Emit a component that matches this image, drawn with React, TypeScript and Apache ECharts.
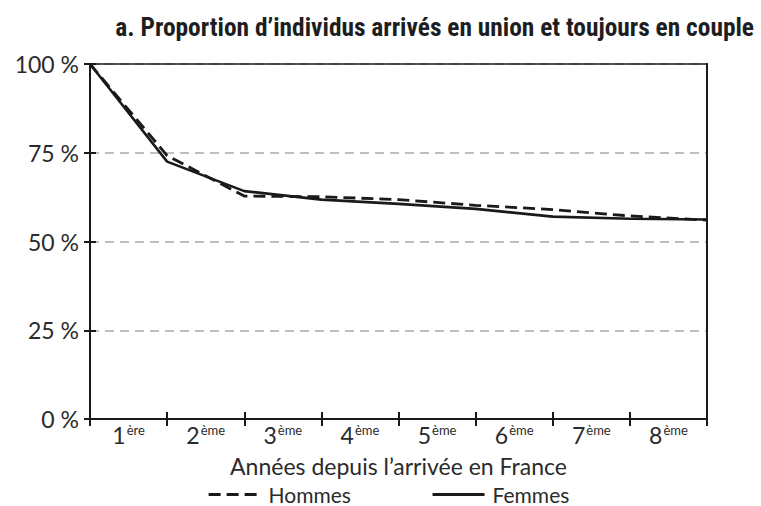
import React, { useEffect, useRef } from "react";
import * as echarts from "echarts";

const titleText = "a. Proportion d’individus arrivés en union et toujours en couple";
const axisTitle = "Années depuis l’arrivée en France";
const yearNumbers = ["1", "2", "3", "4", "5", "6", "7", "8"];
const yearSuffixes = ["ère", "ème", "ème", "ème", "ème", "ème", "ème", "ème"];
const xPositions = [0, 1, 2, 3, 4, 5, 6, 7, 8];
const hommes = [100, 74.2, 62.8, 62.6, 61.8, 60.2, 59.0, 57.2, 56.0];
const femmes = [100, 72.5, 64.2, 61.8, 60.6, 59.2, 57.0, 56.4, 56.2];
const yTicks = [0, 25, 50, 75, 100];

const FONT = "Lato, 'Open Sans', sans-serif";
const TEXT = "#2b2b2b";
const LINE = "#1a1a1a";

export default function App() {
  const ref = useRef<HTMLDivElement>(null);
  useEffect(() => {
    if (!ref.current) return;
    const chart = echarts.init(ref.current, undefined, { renderer: "svg" });
    const categories = yearNumbers.map((n, i) => n + "|" + yearSuffixes[i]);
    const option: any = {
      animation: false,
      backgroundColor: "#ffffff",
      title: {
        text: titleText,
        right: 2,
        top: 9,
        textStyle: {
          fontFamily: "'Liberation Sans Narrow', 'Roboto Condensed', sans-serif",
          fontWeight: "bold",
          fontSize: 25.4,
          color: "#1e1e1e",
        },
      },
      legend: {
        left: 202,
        top: 479,
        itemWidth: 52,
        itemHeight: 14,
        itemGap: 80,
        itemStyle: { opacity: 0 },
        lineStyle: { width: 3.2 },
        textStyle: { fontFamily: FONT, fontSize: 21, color: TEXT, padding: [0, 0, 0, 3] },
        data: ["Hommes", "Femmes"],
      },
      grid: { left: 90, right: 54, top: 64, bottom: 87, containLabel: false },
      xAxis: [
        {
          type: "value",
          position: "bottom",
          min: 0,
          max: 8,
          interval: 1,
          axisLine: { show: true, onZero: false, lineStyle: { color: LINE, width: 2 } },
          axisTick: { show: true, inside: true, length: 7, lineStyle: { color: LINE, width: 2 } },
          axisLabel: { show: false },
          splitLine: { show: false },
        },
        {
          type: "category",
          position: "bottom",
          data: categories,
          boundaryGap: true,
          axisLine: { show: false, onZero: false },
          axisTick: { show: true, length: 7, interval: 0, lineStyle: { color: LINE, width: 2 } },
          axisLabel: {
            interval: 0,
            margin: 1,
            formatter: (v: string) => {
              const [n, s] = v.split("|");
              return `{n|${n}}{s|${s}}`;
            },
            rich: {
              n: { fontFamily: FONT, fontSize: 23, color: TEXT, verticalAlign: "bottom", lineHeight: 26 },
              s: { fontFamily: FONT, fontSize: 13, color: TEXT, verticalAlign: "bottom", lineHeight: 26, padding: [0, 0, 10, 1] },
            },
          },
          name: axisTitle,
          nameLocation: "middle",
          nameGap: 35,
          nameTextStyle: { fontFamily: FONT, fontSize: 23, color: TEXT },
          splitLine: { show: false },
        },
        {
          type: "value",
          position: "top",
          min: 0,
          max: 8,
          axisLine: { show: true, onZero: false, lineStyle: { color: LINE, width: 1.5 } },
          axisTick: { show: false },
          axisLabel: { show: false },
          splitLine: { show: false },
        },
      ],
      yAxis: [
        {
          type: "value",
          min: 0,
          max: 100,
          interval: 25,
          position: "left",
          axisLine: { show: true, onZero: false, lineStyle: { color: LINE, width: 2 } },
          axisTick: { show: true, length: 6, lineStyle: { color: LINE, width: 2 } },
          axisLabel: {
            margin: 11,
            formatter: (v: number) => (yTicks.includes(v) ? `${v} %` : ""),
            fontFamily: FONT,
            fontSize: 23,
            color: TEXT,
          },
          splitLine: { show: true, lineStyle: { color: "#aaaaaa", width: 1.5, type: [9, 6] } },
        },
        {
          type: "value",
          min: 0,
          max: 100,
          interval: 25,
          position: "left",
          axisLine: { show: false, onZero: false },
          axisTick: { show: true, inside: true, length: 6, lineStyle: { color: LINE, width: 2 } },
          axisLabel: { show: false },
          splitLine: { show: false },
        },
        {
          type: "value",
          min: 0,
          max: 100,
          position: "right",
          axisLine: { show: true, onZero: false, lineStyle: { color: LINE, width: 2 } },
          axisTick: { show: false },
          axisLabel: { show: false },
          splitLine: { show: false },
        },
      ],
      series: [
        {
          name: "Hommes",
          type: "line",
          xAxisIndex: 0,
          yAxisIndex: 0,
          symbol: "none",
          data: xPositions.map((x, i) => [x, hommes[i]]),
          lineStyle: { color: LINE, width: 2.8, type: [12, 6] },
          itemStyle: { color: LINE },
          z: 3,
        },
        {
          name: "Femmes",
          type: "line",
          xAxisIndex: 0,
          yAxisIndex: 0,
          symbol: "none",
          data: xPositions.map((x, i) => [x, femmes[i]]),
          lineStyle: { color: LINE, width: 2.6, type: "solid" },
          itemStyle: { color: LINE },
          z: 3,
        },
      ],
    };
    chart.setOption(option);
    return () => chart.dispose();
  }, []);
  return <div ref={ref} style={{ width: 761, height: 506, position: "absolute", left: 0, top: 0 }} />;
}
